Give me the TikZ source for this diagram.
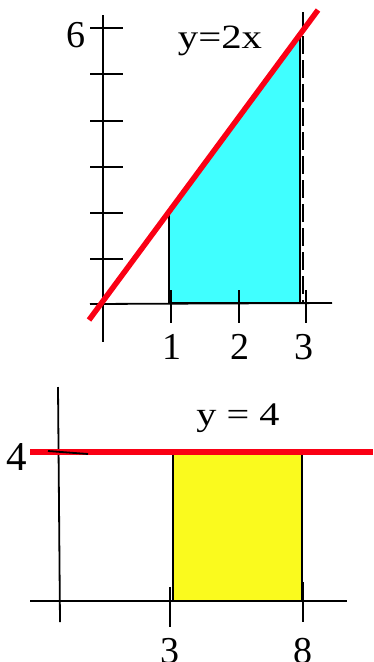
\documentclass[tikz,border=0pt]{standalone}
\usepackage{fontspec}
\usepackage{graphicx}
\setmainfont{Liberation Serif}
\definecolor{PlotRed}{RGB}{250, 0, 20}
\definecolor{PlotCyan}{RGB}{64, 255, 255}
\definecolor{PlotYellow}{RGB}{250, 250, 30}

\begin{document}
\begin{tikzpicture}[
        x=1pt, y=-1pt,
        axis/.style={line width=1.8pt, black},
        tick/.style={line width=1.8pt, black},
        graph/.style={line width=5.5pt, PlotRed},
        edge/.style={line width=1.8pt, black},
        lbl/.style={font=\fontsize{38}{42}\selectfont, inner sep=0pt, anchor=base},
        eqn/.style={inner sep=0pt, anchor=base}
    ]
        \useasboundingbox (0,0) rectangle (373,662);

        % Top plot: area under y=2x
        \fill[PlotCyan] (169,212) -- (300,33) -- (300,303) -- (169,303) -- cycle;
        \draw[edge] (169,212) -- (169,303) -- (300,303) -- (300,36);
        \draw[edge, line width=2.4pt, dash pattern=on 18pt off 6pt] (303,12) -- (303,303);
        \draw[axis] (103,15) -- (103,342);
        \draw[axis] (90,304) -- (332,303);
        \foreach \y in {28,74,121,167,213,259}
            \draw[tick] (90,\y) -- (123,\y);
        \foreach \x in {171,239,306}
            \draw[tick] (\x,290) -- (\x,323);
        \draw[graph] (89,320) -- (318,10);

        % Top labels
        \node[lbl] (six) at (76,47) {6};
        \node[eqn] (lineA) at (220,48) {\fontsize{34}{38}\selectfont\scalebox{1.2}[1]{y=2x}};
        \node[lbl] (one) at (172,359) {1};
        \node[lbl] (two) at (240,359) {2};
        \node[lbl] (three) at (304,359) {3};

        % Bottom plot: area under y=4
        \fill[PlotYellow] (173,452) rectangle (302,601);
        \draw[edge] (173,452) -- (173,601) -- (302,601) -- (302,452);
        \draw[axis] (58,387) -- (60,622);
        \draw[axis] (30,601) -- (347,601);
        \draw[graph] (30,452) -- (373,452);
        \draw[tick] (48,451) -- (88,454);
        \draw[tick] (170,587) -- (170,627);
        \draw[tick] (303,582) -- (303,622);

        % Bottom labels
        \node[eqn] (four) at (17,470) {\fontsize{41}{46}\selectfont 4};
        \node[eqn] (lineB) at (238,425) {\fontsize{33}{37}\selectfont\scalebox{1.22}[1]{y = 4}};
        \node[lbl] (lowA) at (170,663) {3};
        \node[lbl] (lowB) at (303,663) {8};

    \end{tikzpicture}
\end{document}
